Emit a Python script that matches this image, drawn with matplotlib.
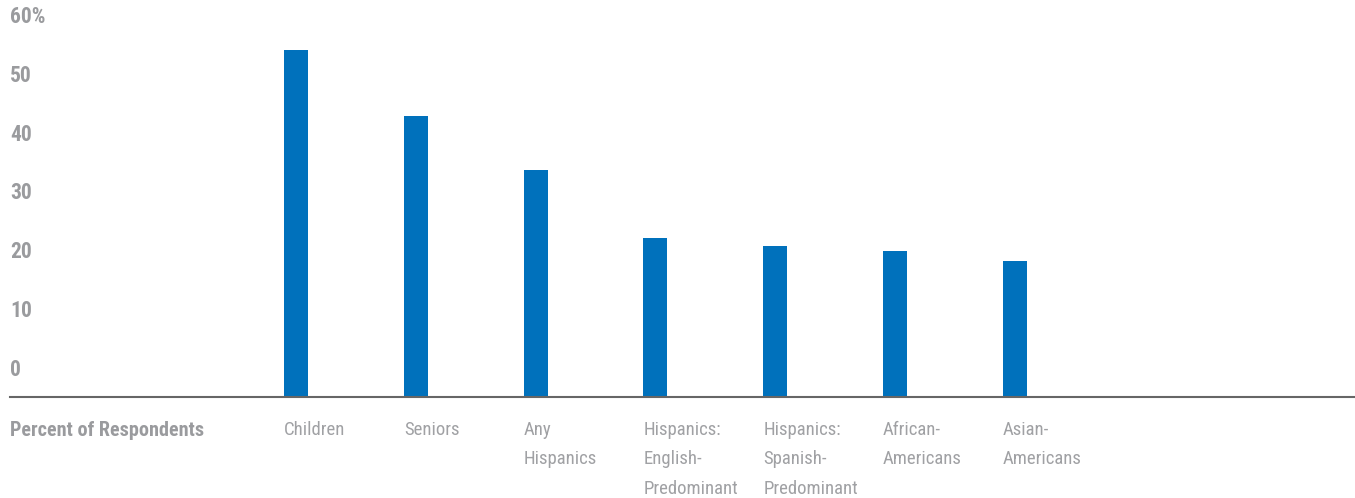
import matplotlib
matplotlib.use("Agg")
import matplotlib.pyplot as plt
from matplotlib import font_manager
from matplotlib.transforms import offset_copy

# --- data ---
CATS = ["Children", "Seniors", "Any\nHispanics", "Hispanics:\nEnglish-\nPredominant",
        "Hispanics:\nSpanish-\nPredominant", "African-\nAmericans", "Asian-\nAmericans"]
VALS = [59.0, 47.7, 38.5, 27.0, 25.6, 24.9, 23.2]
YTICKS = [0, 10, 20, 30, 40, 50, 60]
YLABELS = ["0", "10", "20", "30", "40", "50", "60%"]
ROW_LABEL = "Percent of Respondents"

BLUE = "#0071BC"
GREY = "#9A9B9E"

# narrowest family we can find
have = {f.name for f in font_manager.fontManager.ttflist}
FONT = [f for f in ["Roboto Condensed", "Liberation Sans Narrow", "Open Sans Condensed",
                    "Roboto"] if f in have] + ["DejaVu Sans"]
plt.rcParams["font.family"] = FONT

fig = plt.figure(figsize=(13.55, 4.98), dpi=100)
fig.patch.set_facecolor("white")
ax = fig.add_axes([10/1355, 101/498, 1345/1355, (397-44)/498])

xs = list(range(len(CATS)))
ax.bar(xs, VALS, width=0.2, align="edge", color=BLUE, zorder=2)
ax.set_xlim(-2.287, -2.287 + 1345/119.8)
ax.set_ylim(0, 60)

for s in ["top", "right", "left"]:
    ax.spines[s].set_visible(False)
ax.spines["bottom"].set_color("#666666")
ax.spines["bottom"].set_linewidth(1.5)

# y labels sit above their value lines
ax.set_yticks([])
tr = offset_copy(ax.get_yaxis_transform(), fig=fig, x=0, y=19.5, units="points")
for v, lab in zip(YTICKS, YLABELS):
    ax.text(0, v, lab, transform=tr, ha="left", va="center", fontsize=15.5,
            weight="bold", color=GREY)

ax.set_xticks(xs)
ax.set_xticklabels(CATS, ha="left", fontsize=13.5, color="#A0A1A4", linespacing=1.82)
ax.tick_params(axis="x", length=0, pad=17)

ax.annotate(ROW_LABEL, xy=(0, 0), xycoords="axes fraction", xytext=(0, -17),
            textcoords="offset points", ha="left", va="top", fontsize=14.5,
            weight="bold", color=GREY)

fig.savefig("out.png", dpi=100, facecolor="white")
